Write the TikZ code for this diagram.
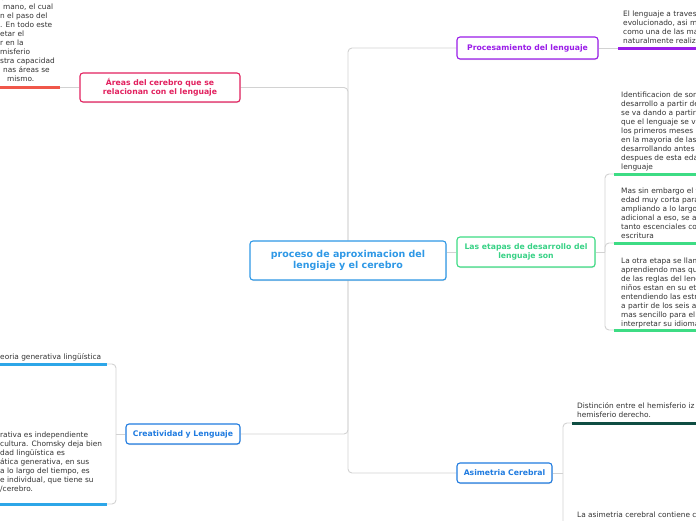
\documentclass[tikz,border=0pt]{standalone}
\usepackage{fontspec}
\setmainfont{DejaVu Sans}
\usetikzlibrary{shadows}
\definecolor{ctrblue}{HTML}{2E98E6}
\definecolor{purp}{HTML}{9A1CE8}
\definecolor{grn}{HTML}{3DDC84}
\definecolor{grntxt}{HTML}{38D286}
\definecolor{blu}{HTML}{1F7BE0}
\definecolor{crim}{HTML}{E2215F}
\definecolor{redu}{HTML}{F0574A}
\definecolor{bluu}{HTML}{2DA6E8}
\definecolor{dkgrn}{HTML}{0E4D42}
\definecolor{lineg}{HTML}{D2D2D2}
\definecolor{txtg}{HTML}{333333}
\pgfdeclarelayer{background}
\pgfsetlayers{background,main}
\begin{document}
\begin{tikzpicture}[x=1pt,y=-1pt,
  conn/.style={draw=lineg, line width=0.9pt, rounded corners=4pt},
  box/.style={draw, fill=white, rounded corners=3pt, line width=1.1pt, inner sep=0pt, align=center,
    font=\fontsize{7.7}{8.8}\selectfont\bfseries,
    drop shadow={shadow xshift=0.5pt, shadow yshift=-1pt, opacity=0.22}},
  txt/.style={anchor=north west, align=left, inner sep=0pt, text=txtg, font=\fontsize{7.4}{9}\selectfont},
  uline/.style={line width=3pt}]
\useasboundingbox (0,0) rectangle (696,520);
\clip (0,0) rectangle (696,520);

% main nodes
\node[box, draw=ctrblue, text=ctrblue, minimum width=196pt, minimum height=39pt,
  font=\fontsize{9.5}{11.2}\selectfont\bfseries] (ctr) at (348,260.5)
  {proceso de aproximacion del\\lengiaje y el cerebro};
\node[box, draw=purp, text=purp, minimum width=141pt, minimum height=22pt] (proc) at (527.5,48)
  {Procesamiento del lenguaje};
\node[box, draw=grn, text=grntxt, minimum width=138pt, minimum height=30pt] (etapas) at (526,252)
  {Las etapas de desarrollo del\\lenguaje son};
\node[box, draw=blu, text=blu, minimum width=95pt, minimum height=20pt] (asim) at (504.5,473)
  {Asimetria Cerebral};
\node[box, draw=crim, text=crim, minimum width=160pt, minimum height=29pt] (areas) at (160,87.5)
  {Áreas del cerebro que se\\relacionan con el lenguaje};
\node[box, draw=blu, text=blu, minimum width=114pt, minimum height=20pt] (crea) at (183,434)
  {Creatividad y Lenguaje};

% underline start points
\coordinate (u0) at (618,48);
\coordinate (u0e) at (700,48);
\coordinate (es) at (605,252);
\coordinate (u1) at (614,174);
\coordinate (u1e) at (700,174);
\coordinate (u2) at (614,243);
\coordinate (u2e) at (700,243);
\coordinate (u3) at (614,330);
\coordinate (u3e) at (700,330);
\coordinate (as) at (563,473);
\coordinate (us1) at (572,423);
\coordinate (us1e) at (700,423);
\coordinate (us2) at (572,560);
\coordinate (ua) at (60,87.5);
\coordinate (uae) at (-5,87.5);
\coordinate (cs) at (116,434);
\coordinate (uc1) at (107,364);
\coordinate (uc1e) at (-5,364);
\coordinate (uc2) at (107,504);
\coordinate (uc2e) at (-5,504);

% connectors
\begin{pgfonlayer}{background}
\draw[conn] (ctr.north) |- (proc.west);
\draw[conn] (ctr.north) |- (areas.east);
\draw[conn] (ctr.south) |- (asim.west);
\draw[conn] (ctr.south) |- (crea.east);
\draw[conn] (ctr.east |- etapas.west) -- (etapas.west);
\draw[conn] (proc.east) -- (u0);
\draw[conn] (etapas.east) -- (es);
\draw[conn] (es) |- (u1);
\draw[conn] (es) |- (u2);
\draw[conn] (es) |- (u3);
\draw[conn] (asim.east) -- (as);
\draw[conn] (as) |- (us1);
\draw[conn] (as) |- (us2);
\draw[conn] (areas.west) -- (ua);
\draw[conn] (crea.west) -- (cs);
\draw[conn] (cs) |- (uc1);
\draw[conn] (cs) |- (uc2);
\end{pgfonlayer}

% underlines
\draw[uline, purp] (u0) -- (u0e);
\draw[uline, grn] (u1) -- (u1e);
\draw[uline, grn] (u2) -- (u2e);
\draw[uline, grn] (u3) -- (u3e);
\draw[uline, dkgrn] (us1) -- (us1e);
\draw[uline, redu] (ua) -- (uae);
\draw[uline, bluu] (uc1) -- (uc1e);
\draw[uline, bluu] (uc2) -- (uc2e);

% texts
\node[txt] (tproc) at (623,11) {El lenguaje a traves\\evolucionado, asi m\\como una de las ma\\naturalmente realiz};
\node[txt] (tet1) at (621,91.5) {Identificacion de son\\desarrollo a partir de\\se va dando a partir\\que el lenguaje se va\\los primeros meses\\en la mayoria de las\\desarrollando antes\\despues de esta eda\\lenguaje};
\node[txt] (tet2) at (621,187.5) {Mas sin embargo el v\\edad muy corta para\\ampliando a lo largo\\adicional a eso, se a\\tanto escenciales con\\escritura};
\node[txt] (tet3) at (621,257.5) {La otra etapa se llam\\aprendiendo mas qu\\de las reglas del leng\\niños estan en su eta\\entendiendo las estr\\a partir de los seis a\\mas sencillo para el\\interpretar su idioma};
\node[txt] (tas1) at (577,402) {Distinción entre el hemisferio iz\\hemisferio derecho.};
\node[txt] (tas2) at (577,512) {La asimetria cerebral contiene c};
\node[txt] (tar) at (0,-3.5) {e mas\\\hspace*{3pt}mano, el cual\\n el paso del\\. En todo este\\etar el\\r en la\\misferio\\stra capacidad\\\hspace*{3pt}nas áreas se\\\hspace*{7pt}mismo.};
\node[txt] (tcr1) at (0,353) {eoria generativa lingüística};
\node[txt] (tcr2) at (0,432) {rativa es independiente\\cultura. Chomsky deja bien\\dad lingüística es\\ática generativa, en sus\\a lo largo del tiempo, es\\e individual, que tiene su\\/cerebro.};
\end{tikzpicture}
\end{document}
